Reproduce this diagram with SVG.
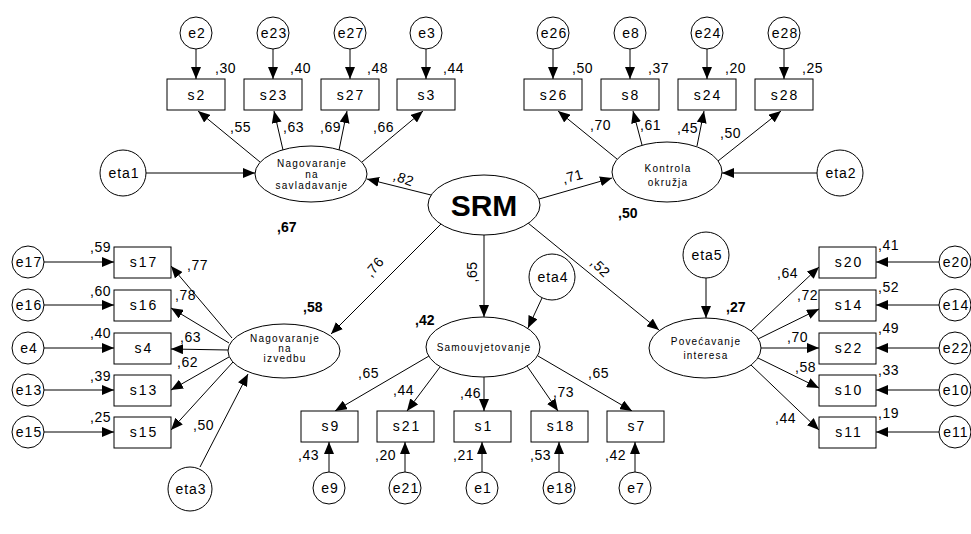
<svg xmlns="http://www.w3.org/2000/svg" width="971" height="534" viewBox="0 0 971 534">
<defs>
<marker id="ah" viewBox="0 0 12 10" refX="12" refY="5" markerWidth="12" markerHeight="10" orient="auto" markerUnits="userSpaceOnUse"><path d="M0,0 L12,5 L0,10 Z" fill="#000"/></marker>
<style>
.s{fill:#fff;stroke:#000;stroke-width:1}
.c line{stroke:#000;stroke-width:1;marker-end:url(#ah)}
text{font-family:"Liberation Sans",Arial,sans-serif;fill:#000}
.n{font-size:14px;letter-spacing:1px;text-anchor:middle}
.b{font-size:14px;letter-spacing:2px;text-anchor:middle}
.l{font-size:14px;letter-spacing:0.5px}
.e{font-size:10px;letter-spacing:1.2px;text-anchor:middle}
.r{font-size:14px;font-weight:bold}
</style>
</defs>
<rect width="971" height="534" fill="#fff"/>

<g id="connectors" class="c">
<line x1="196" y1="49" x2="196" y2="79"/>
<line x1="273" y1="49" x2="273" y2="79"/>
<line x1="350" y1="49" x2="350" y2="79"/>
<line x1="426" y1="49" x2="426" y2="79"/>
<line x1="260" y1="162" x2="198" y2="111"/>
<line x1="283" y1="150" x2="274" y2="111"/>
<line x1="339" y1="150" x2="347" y2="111"/>
<line x1="362" y1="162" x2="423" y2="111"/>
<line x1="146" y1="173" x2="255" y2="173"/>
<line x1="431" y1="195" x2="367" y2="179"/>
<line x1="539" y1="199" x2="612" y2="178"/>
<line x1="441" y1="224" x2="331" y2="334"/>
<line x1="484" y1="235" x2="484" y2="317"/>
<line x1="528" y1="223" x2="659" y2="330"/>
<line x1="553" y1="49" x2="553" y2="79"/>
<line x1="630" y1="49" x2="630" y2="79"/>
<line x1="707" y1="49" x2="707" y2="79"/>
<line x1="784" y1="49" x2="784" y2="79"/>
<line x1="617" y1="159" x2="558" y2="111"/>
<line x1="642" y1="145" x2="633" y2="111"/>
<line x1="697" y1="146" x2="704" y2="111"/>
<line x1="718" y1="161" x2="781" y2="111"/>
<line x1="817" y1="173" x2="722" y2="173"/>
<line x1="44" y1="262" x2="114" y2="262"/>
<line x1="44" y1="305" x2="114" y2="305"/>
<line x1="44" y1="348" x2="114" y2="348"/>
<line x1="44" y1="390" x2="114" y2="390"/>
<line x1="44" y1="432" x2="114" y2="432"/>
<line x1="232" y1="338" x2="171" y2="266"/>
<line x1="229" y1="343" x2="171" y2="308"/>
<line x1="228" y1="350" x2="171" y2="349"/>
<line x1="229" y1="357" x2="171" y2="390"/>
<line x1="233" y1="362" x2="171" y2="430"/>
<line x1="200" y1="467" x2="248" y2="374"/>
<line x1="542" y1="298" x2="528" y2="328"/>
<line x1="429" y1="356" x2="335" y2="411"/>
<line x1="440" y1="367" x2="407" y2="411"/>
<line x1="484" y1="377" x2="484" y2="411"/>
<line x1="527" y1="366" x2="558" y2="411"/>
<line x1="538" y1="356" x2="632" y2="411"/>
<line x1="329" y1="472" x2="329" y2="442"/>
<line x1="405" y1="472" x2="405" y2="442"/>
<line x1="482" y1="472" x2="482" y2="442"/>
<line x1="559" y1="472" x2="559" y2="442"/>
<line x1="635" y1="472" x2="635" y2="442"/>
<line x1="706" y1="278" x2="706" y2="318"/>
<line x1="751" y1="331" x2="819" y2="267"/>
<line x1="758" y1="339" x2="819" y2="309"/>
<line x1="761" y1="348" x2="819" y2="348"/>
<line x1="758" y1="358" x2="819" y2="388"/>
<line x1="751" y1="365" x2="819" y2="430"/>
<line x1="939" y1="262" x2="876" y2="262"/>
<line x1="939" y1="305" x2="876" y2="305"/>
<line x1="939" y1="348" x2="876" y2="348"/>
<line x1="939" y1="390" x2="876" y2="390"/>
<line x1="939" y1="432" x2="876" y2="432"/>
</g>

<g id="SRM"><ellipse class="s" cx="484" cy="205" rx="56" ry="30"/><text x="484" y="216" font-size="30" font-weight="bold" text-anchor="middle">SRM</text></g>

<g id="NS"><ellipse class="s" cx="311" cy="174" rx="56" ry="28"/>
<text class="e" x="312" y="167">Nagovaranje</text><text class="e" x="312" y="178">na</text><text class="e" x="312" y="189">savladavanje</text>
<text class="r" x="277" y="232">,67</text></g>
<g id="eta1"><circle class="s" cx="123" cy="173" r="23"/><text class="n" x="124" y="178">eta1</text></g>
<g id="s2"><rect class="s" x="167" y="79" width="58" height="31"/><text class="b" x="197" y="100">s2</text></g>
<g id="s23"><rect class="s" x="244" y="79" width="58" height="31"/><text class="b" x="274" y="100">s23</text></g>
<g id="s27"><rect class="s" x="321" y="79" width="58" height="31"/><text class="b" x="351" y="100">s27</text></g>
<g id="s3"><rect class="s" x="397" y="79" width="58" height="31"/><text class="b" x="427" y="100">s3</text></g>
<g id="e2"><circle class="s" cx="196" cy="33" r="16"/><text class="n" x="197" y="38">e2</text></g>
<g id="e23"><circle class="s" cx="273" cy="33" r="16"/><text class="n" x="274" y="38">e23</text></g>
<g id="e27"><circle class="s" cx="350" cy="33" r="16"/><text class="n" x="351" y="38">e27</text></g>
<g id="e3"><circle class="s" cx="426" cy="33" r="16"/><text class="n" x="427" y="38">e3</text></g>
<g id="lab-ns" class="l">
<text x="215" y="73">,30</text><text x="290" y="73">,40</text><text x="367" y="73">,48</text><text x="443" y="73">,44</text>
<text x="230" y="132">,55</text><text x="283" y="132">,63</text><text x="320" y="132">,69</text><text x="373" y="132">,66</text>
<text transform="translate(402,183) rotate(20)" text-anchor="middle">,82</text>
<text transform="translate(574,181) rotate(-15)" text-anchor="middle">,71</text>
</g>

<g id="KO"><ellipse class="s" cx="667" cy="172" rx="55" ry="30"/>
<text class="e" x="668" y="172">Kontrola</text><text class="e" x="668" y="186">okružja</text>
<text class="r" x="618" y="218">,50</text></g>
<g id="eta2"><circle class="s" cx="840" cy="173" r="23"/><text class="n" x="841" y="178">eta2</text></g>
<g id="s26"><rect class="s" x="524" y="79" width="58" height="31"/><text class="b" x="554" y="100">s26</text></g>
<g id="s8"><rect class="s" x="601" y="79" width="58" height="31"/><text class="b" x="631" y="100">s8</text></g>
<g id="s24"><rect class="s" x="678" y="79" width="58" height="31"/><text class="b" x="708" y="100">s24</text></g>
<g id="s28"><rect class="s" x="755" y="79" width="58" height="31"/><text class="b" x="785" y="100">s28</text></g>
<g id="e26"><circle class="s" cx="553" cy="33" r="16"/><text class="n" x="554" y="38">e26</text></g>
<g id="e8"><circle class="s" cx="630" cy="33" r="16"/><text class="n" x="631" y="38">e8</text></g>
<g id="e24"><circle class="s" cx="707" cy="33" r="16"/><text class="n" x="708" y="38">e24</text></g>
<g id="e28"><circle class="s" cx="784" cy="33" r="16"/><text class="n" x="785" y="38">e28</text></g>
<g id="lab-ko" class="l">
<text x="572" y="73">,50</text><text x="648" y="73">,37</text><text x="725" y="73">,20</text><text x="802" y="73">,25</text>
<text x="590" y="130">,70</text><text x="640" y="130">,61</text><text x="677" y="133">,45</text><text x="720" y="138">,50</text>
</g>

<g id="NI"><ellipse class="s" cx="284" cy="351" rx="56" ry="27"/>
<text class="e" x="285" y="342">Nagovaranje</text><text class="e" x="285" y="352">na</text><text class="e" x="285" y="362">izvedbu</text>
<text class="r" x="303" y="312">,58</text></g>
<g id="eta3"><circle class="s" cx="190" cy="489" r="22"/><text class="n" x="191" y="494">eta3</text></g>
<g id="s17"><rect class="s" x="114" y="247" width="57" height="31"/><text class="b" x="144" y="267">s17</text></g>
<g id="s16"><rect class="s" x="114" y="290" width="57" height="31"/><text class="b" x="144" y="310">s16</text></g>
<g id="s4"><rect class="s" x="114" y="333" width="57" height="31"/><text class="b" x="144" y="353">s4</text></g>
<g id="s13"><rect class="s" x="114" y="375" width="57" height="31"/><text class="b" x="144" y="395">s13</text></g>
<g id="s15"><rect class="s" x="114" y="417" width="57" height="31"/><text class="b" x="144" y="437">s15</text></g>
<g id="e17"><circle class="s" cx="28" cy="262" r="16"/><text class="n" x="29" y="267">e17</text></g>
<g id="e16"><circle class="s" cx="28" cy="305" r="16"/><text class="n" x="29" y="310">e16</text></g>
<g id="e4"><circle class="s" cx="28" cy="348" r="16"/><text class="n" x="29" y="353">e4</text></g>
<g id="e13"><circle class="s" cx="28" cy="390" r="16"/><text class="n" x="29" y="395">e13</text></g>
<g id="e15"><circle class="s" cx="28" cy="432" r="16"/><text class="n" x="29" y="437">e15</text></g>
<g id="lab-ni" class="l">
<text x="90" y="252">,59</text><text x="90" y="296">,60</text><text x="90" y="338">,40</text><text x="90" y="381">,39</text><text x="90" y="422">,25</text>
<text x="187" y="270">,77</text><text x="175" y="300">,78</text><text x="180" y="342">,63</text><text x="177" y="367">,62</text><text x="193" y="430">,50</text>
<text transform="translate(378,270) rotate(-50)" text-anchor="middle">,76</text>
<text transform="translate(477,272) rotate(-90)" text-anchor="middle">,65</text>
<text transform="translate(597,271) rotate(45)" text-anchor="middle">,52</text>
</g>

<g id="SA"><ellipse class="s" cx="483" cy="347" rx="57" ry="30"/>
<text class="e" x="484" y="351">Samouvjetovanje</text>
<text class="r" x="415" y="325">,42</text></g>
<g id="eta4"><circle class="s" cx="552" cy="277" r="23"/><text class="n" x="553" y="282">eta4</text></g>
<g id="s9"><rect class="s" x="301" y="411" width="57" height="31"/><text class="b" x="331" y="431">s9</text></g>
<g id="s21"><rect class="s" x="377" y="411" width="57" height="31"/><text class="b" x="407" y="431">s21</text></g>
<g id="s1"><rect class="s" x="454" y="411" width="57" height="31"/><text class="b" x="484" y="431">s1</text></g>
<g id="s18"><rect class="s" x="531" y="411" width="57" height="31"/><text class="b" x="561" y="431">s18</text></g>
<g id="s7"><rect class="s" x="607" y="411" width="57" height="31"/><text class="b" x="637" y="431">s7</text></g>
<g id="e9"><circle class="s" cx="329" cy="488" r="16"/><text class="n" x="330" y="493">e9</text></g>
<g id="e21"><circle class="s" cx="405" cy="488" r="16"/><text class="n" x="406" y="493">e21</text></g>
<g id="e1"><circle class="s" cx="482" cy="488" r="16"/><text class="n" x="483" y="493">e1</text></g>
<g id="e18"><circle class="s" cx="559" cy="488" r="16"/><text class="n" x="560" y="493">e18</text></g>
<g id="e7"><circle class="s" cx="635" cy="488" r="16"/><text class="n" x="636" y="493">e7</text></g>
<g id="lab-sa" class="l">
<text x="358" y="378">,65</text><text x="393" y="395">,44</text><text x="460" y="398">,46</text><text x="553" y="397">,73</text><text x="588" y="378">,65</text>
<text x="298" y="460">,43</text><text x="375" y="460">,20</text><text x="453" y="460">,21</text><text x="530" y="460">,53</text><text x="605" y="460">,42</text>
</g>

<g id="POV"><ellipse class="s" cx="705" cy="348" rx="56" ry="30"/>
<text class="e" x="706" y="345">Povećavanje</text><text class="e" x="706" y="359">interesa</text>
<text class="r" x="726" y="312">,27</text></g>
<g id="eta5"><circle class="s" cx="706" cy="255" r="23"/><text class="n" x="707" y="260">eta5</text></g>
<g id="s20"><rect class="s" x="819" y="247" width="57" height="31"/><text class="b" x="849" y="267">s20</text></g>
<g id="s14"><rect class="s" x="819" y="290" width="57" height="31"/><text class="b" x="849" y="310">s14</text></g>
<g id="s22"><rect class="s" x="819" y="333" width="57" height="31"/><text class="b" x="849" y="353">s22</text></g>
<g id="s10"><rect class="s" x="819" y="375" width="57" height="31"/><text class="b" x="849" y="395">s10</text></g>
<g id="s11"><rect class="s" x="819" y="417" width="57" height="31"/><text class="b" x="849" y="437">s11</text></g>
<g id="e20"><circle class="s" cx="955" cy="262" r="16"/><text class="n" x="956" y="267" letter-spacing="0">e20</text></g>
<g id="e14"><circle class="s" cx="955" cy="305" r="16"/><text class="n" x="956" y="310" letter-spacing="0">e14</text></g>
<g id="e22"><circle class="s" cx="955" cy="348" r="16"/><text class="n" x="956" y="353" letter-spacing="0">e22</text></g>
<g id="e10"><circle class="s" cx="955" cy="390" r="16"/><text class="n" x="956" y="395" letter-spacing="0">e10</text></g>
<g id="e11"><circle class="s" cx="955" cy="432" r="16"/><text class="n" x="956" y="437" letter-spacing="0">e11</text></g>
<g id="lab-pov" class="l">
<text x="777" y="278">,64</text><text x="797" y="300">,72</text><text x="787" y="342">,70</text><text x="795" y="372">,58</text><text x="775" y="423">,44</text>
<text x="878" y="250">,41</text><text x="878" y="292">,52</text><text x="878" y="333">,49</text><text x="878" y="375">,33</text><text x="878" y="418">,19</text>
</g>
</svg>
